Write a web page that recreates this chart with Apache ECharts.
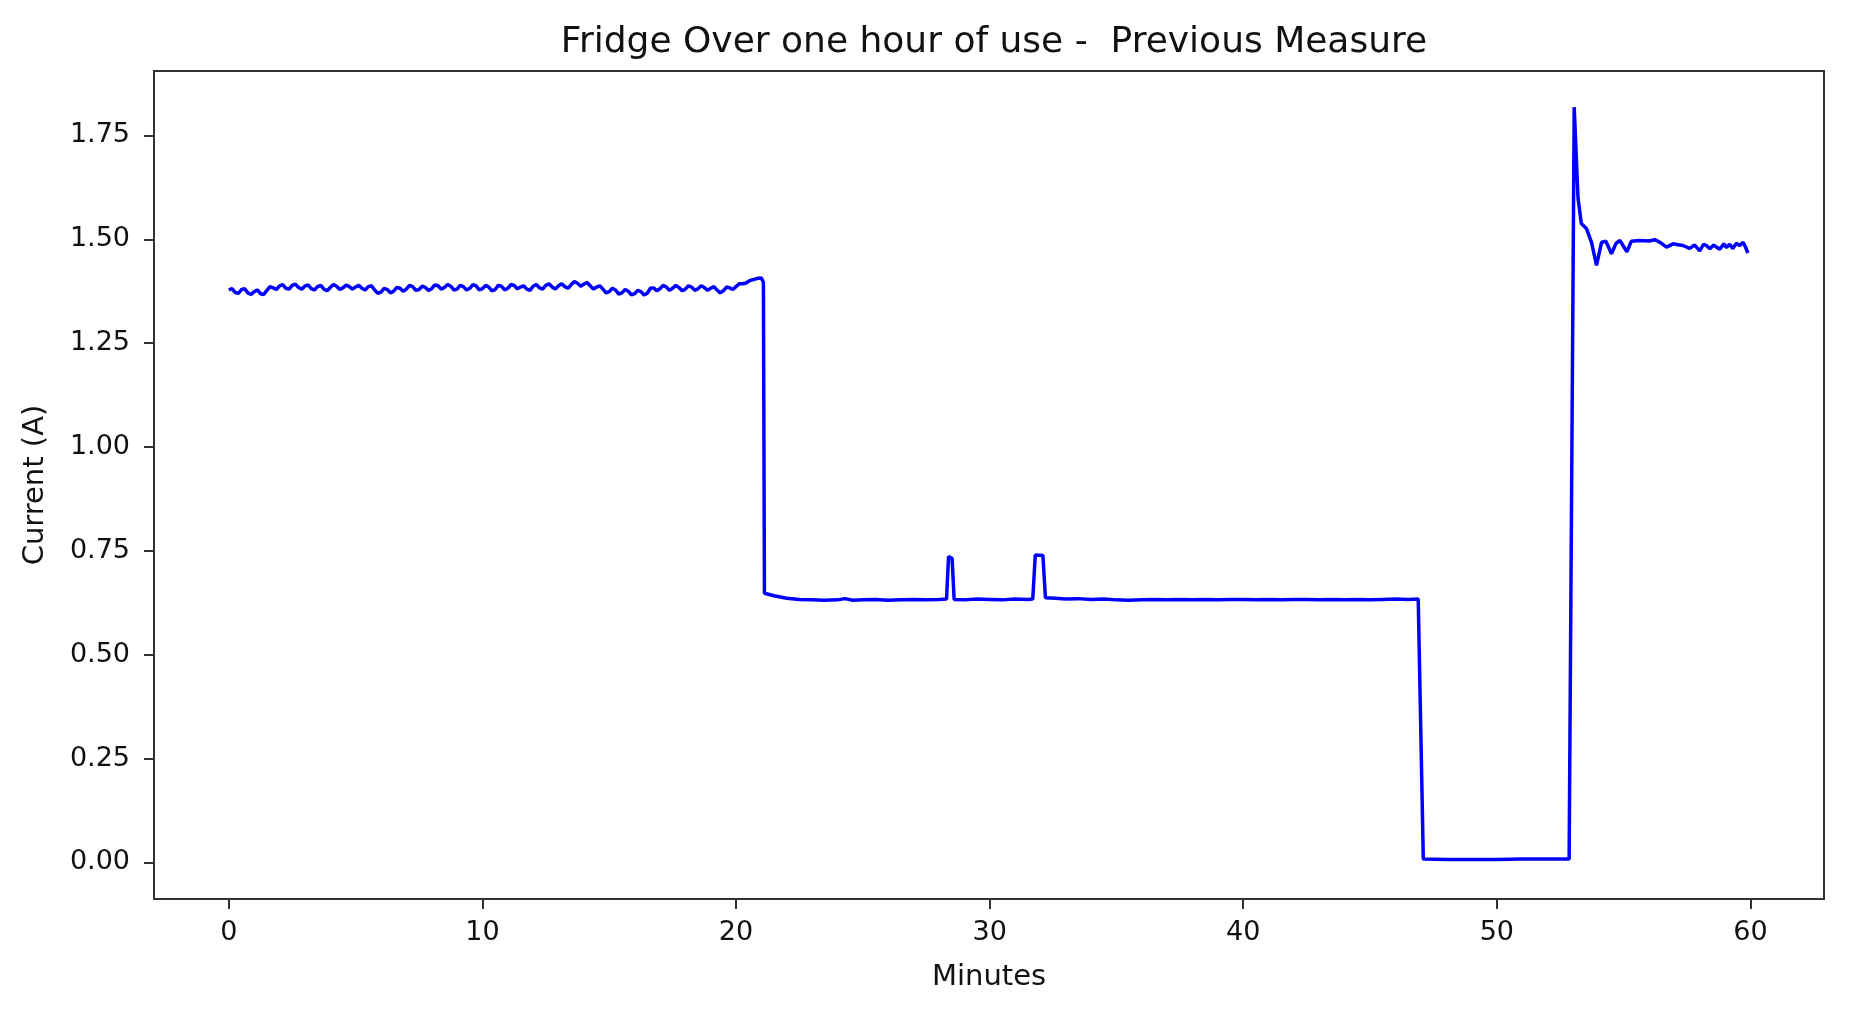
<!DOCTYPE html>
<html>
<head>
<meta charset="utf-8">
<script src="https://cdn.jsdelivr.net/npm/echarts@6/dist/echarts.min.js"></script>
<style>
html,body{margin:0;padding:0;background:#fff;}
#chart{width:1852px;height:1011px;}
</style>
</head>
<body>
<div id="chart"></div>
<script>
const chartTitle = "Fridge Over one hour of use -  Previous Measure";
const xAxisName = "Minutes";
const yAxisName = "Current (A)";
const xTicks = [0, 10, 20, 30, 40, 50, 60];
const yTicks = [0, 0.25, 0.5, 0.75, 1.0, 1.25, 1.5, 1.75];

const minutes = [
  0.000,0.125,0.250,0.375,0.500,0.625,0.750,0.875,
  1.000,1.125,1.250,1.375,1.500,1.625,1.750,1.875,
  2.000,2.125,2.250,2.375,2.500,2.625,2.750,2.875,
  3.000,3.125,3.250,3.375,3.500,3.625,3.750,3.875,
  4.000,4.125,4.250,4.375,4.500,4.625,4.750,4.875,
  5.000,5.125,5.250,5.375,5.500,5.625,5.750,5.875,
  6.000,6.125,6.250,6.375,6.500,6.625,6.750,6.875,
  7.000,7.125,7.250,7.375,7.500,7.625,7.750,7.875,
  8.000,8.125,8.250,8.375,8.500,8.625,8.750,8.875,
  9.000,9.125,9.250,9.375,9.500,9.625,9.750,9.875,
  10.000,10.125,10.250,10.375,10.500,10.625,10.750,10.875,
  11.000,11.125,11.250,11.375,11.500,11.625,11.750,11.875,
  12.000,12.125,12.250,12.375,12.500,12.625,12.750,12.875,
  13.000,13.125,13.250,13.375,13.500,13.625,13.750,13.875,
  14.000,14.125,14.250,14.375,14.500,14.625,14.750,14.875,
  15.000,15.125,15.250,15.375,15.500,15.625,15.750,15.875,
  16.000,16.125,16.250,16.375,16.500,16.625,16.750,16.875,
  17.000,17.125,17.250,17.375,17.500,17.625,17.750,17.875,
  18.000,18.125,18.250,18.375,18.500,18.625,18.750,18.875,
  19.000,19.125,19.250,19.375,19.500,19.625,19.750,19.875,
  20.000,20.125,20.250,20.375,20.500,20.625,20.750,20.875,
  21.000,21.08,
  21.12,21.5,22.0,22.5,23.0,23.5,24.0,24.3,24.6,25.0,25.5,26.0,26.5,27.0,27.5,28.0,28.3,
  28.38,28.52,28.6,29.0,29.5,30.0,30.5,31.0,31.5,31.7,31.8,32.1,32.2,32.6,33.0,33.5,34.0,34.5,
  35.0,35.5,36.0,36.5,37.0,37.5,38.0,38.5,39.0,39.5,40.0,40.5,41.0,41.5,42.0,42.5,43.0,43.5,
  44.0,44.5,45.0,45.5,46.0,46.5,46.9,
  47.1,48.0,49.0,50.0,51.0,52.0,52.85,
  53.05,53.2,53.33,53.53,53.73,53.93,54.13,54.3,54.52,54.7,54.85,55.13,55.3,55.63,56.0,56.23,
  56.45,56.69,56.95,57.15,57.34,57.6,57.8,58.0,58.15,58.26,58.4,58.55,58.79,58.95,59.05,59.18,
  59.3,59.45,59.58,59.71,59.8,59.9
];

const current = [
  1.378,1.381,1.372,1.370,1.379,1.381,1.371,1.367,
  1.374,1.378,1.369,1.367,1.377,1.386,1.383,1.379,
  1.388,1.391,1.382,1.380,1.389,1.392,1.384,1.380,
  1.387,1.390,1.381,1.378,1.386,1.389,1.380,1.376,
  1.384,1.391,1.387,1.379,1.383,1.390,1.386,1.380,
  1.385,1.389,1.382,1.378,1.386,1.388,1.378,1.370,
  1.373,1.382,1.379,1.371,1.375,1.384,1.382,1.375,
  1.380,1.389,1.386,1.377,1.379,1.387,1.384,1.377,
  1.381,1.390,1.388,1.380,1.384,1.391,1.387,1.378,
  1.380,1.389,1.386,1.378,1.382,1.391,1.388,1.378,
  1.381,1.389,1.385,1.376,1.379,1.389,1.387,1.378,
  1.382,1.391,1.389,1.381,1.385,1.388,1.380,1.377,
  1.387,1.391,1.383,1.380,1.389,1.393,1.385,1.380,
  1.388,1.393,1.386,1.382,1.391,1.398,1.394,1.387,
  1.392,1.396,1.388,1.380,1.385,1.388,1.380,1.371,
  1.374,1.382,1.378,1.368,1.371,1.379,1.375,1.366,
  1.369,1.377,1.374,1.366,1.370,1.382,1.383,1.376,
  1.381,1.389,1.385,1.377,1.382,1.389,1.384,1.376,
  1.380,1.388,1.385,1.377,1.381,1.388,1.384,1.377,
  1.382,1.386,1.378,1.371,1.376,1.385,1.383,1.379,
  1.386,1.393,1.393,1.394,1.399,1.402,1.404,1.406,
  1.407,1.396,
  0.648,0.642,0.636,0.633,0.632,0.631,0.632,0.635,0.631,0.632,0.633,0.631,0.632,0.633,0.632,0.633,0.634,
  0.736,0.732,0.633,0.632,0.634,0.633,0.632,0.634,0.633,0.634,0.740,0.739,0.637,0.636,0.634,0.635,0.633,0.634,
  0.632,0.631,0.632,0.633,0.632,0.633,0.632,0.633,0.632,0.633,0.633,0.632,0.633,0.632,0.633,0.633,0.632,0.633,
  0.632,0.633,0.632,0.633,0.634,0.633,0.634,
  0.008,0.007,0.007,0.007,0.008,0.008,0.008,
  1.818,1.600,1.538,1.526,1.493,1.437,1.493,1.495,1.465,1.490,1.497,1.470,1.495,1.497,1.496,1.499,
  1.492,1.481,1.489,1.487,1.485,1.478,1.486,1.472,1.488,1.485,1.477,1.486,1.476,1.489,1.480,1.488,
  1.478,1.490,1.485,1.493,1.482,1.467
];

const seriesData = minutes.map((m, i) => [m, current[i]]);
const FONT = "DejaVu Sans";

const chart = echarts.init(document.getElementById('chart'), null, {renderer: 'canvas'});
chart.setOption({
  animation: false,
  backgroundColor: '#ffffff',
  title: {
    text: chartTitle,
    left: 989,
    textAlign: 'center',
    top: 20,
    textStyle: {fontFamily: FONT, fontSize: 36, fontWeight: 'normal', color: '#111'}
  },
  grid: {
    left: 154, top: 71, width: 1670, height: 828,
    show: true, borderColor: '#333', borderWidth: 2, backgroundColor: 'transparent'
  },
  xAxis: {
    type: 'value',
    min: -2.95, max: 62.9,
    name: xAxisName,
    nameLocation: 'middle',
    nameGap: 64,
    nameTextStyle: {fontFamily: FONT, fontSize: 29, color: '#111'},
    axisLine: {show: false, onZero: false},
    splitLine: {show: false},
    axisTick: {show: true, customValues: xTicks, length: 10, lineStyle: {color: '#333', width: 2}},
    axisLabel: {customValues: xTicks, margin: 20, fontFamily: FONT, fontSize: 27, color: '#111',
      formatter: v => String(v)}
  },
  yAxis: {
    type: 'value',
    min: -0.088, max: 1.905,
    name: yAxisName,
    nameLocation: 'middle',
    nameGap: 104,
    nameRotate: 90,
    nameTextStyle: {fontFamily: FONT, fontSize: 29, color: '#111'},
    axisLine: {show: false, onZero: false},
    splitLine: {show: false},
    axisTick: {show: true, customValues: yTicks, length: 10, lineStyle: {color: '#333', width: 2}},
    axisLabel: {customValues: yTicks, margin: 24, fontFamily: FONT, fontSize: 27, color: '#111',
      formatter: v => v.toFixed(2)}
  },
  series: [{
    type: 'line',
    data: seriesData,
    showSymbol: false,
    symbol: 'none',
    lineStyle: {color: '#0000ff', width: 3.5},
    itemStyle: {color: '#0000ff'}
  }]
});
</script>
</body>
</html>
